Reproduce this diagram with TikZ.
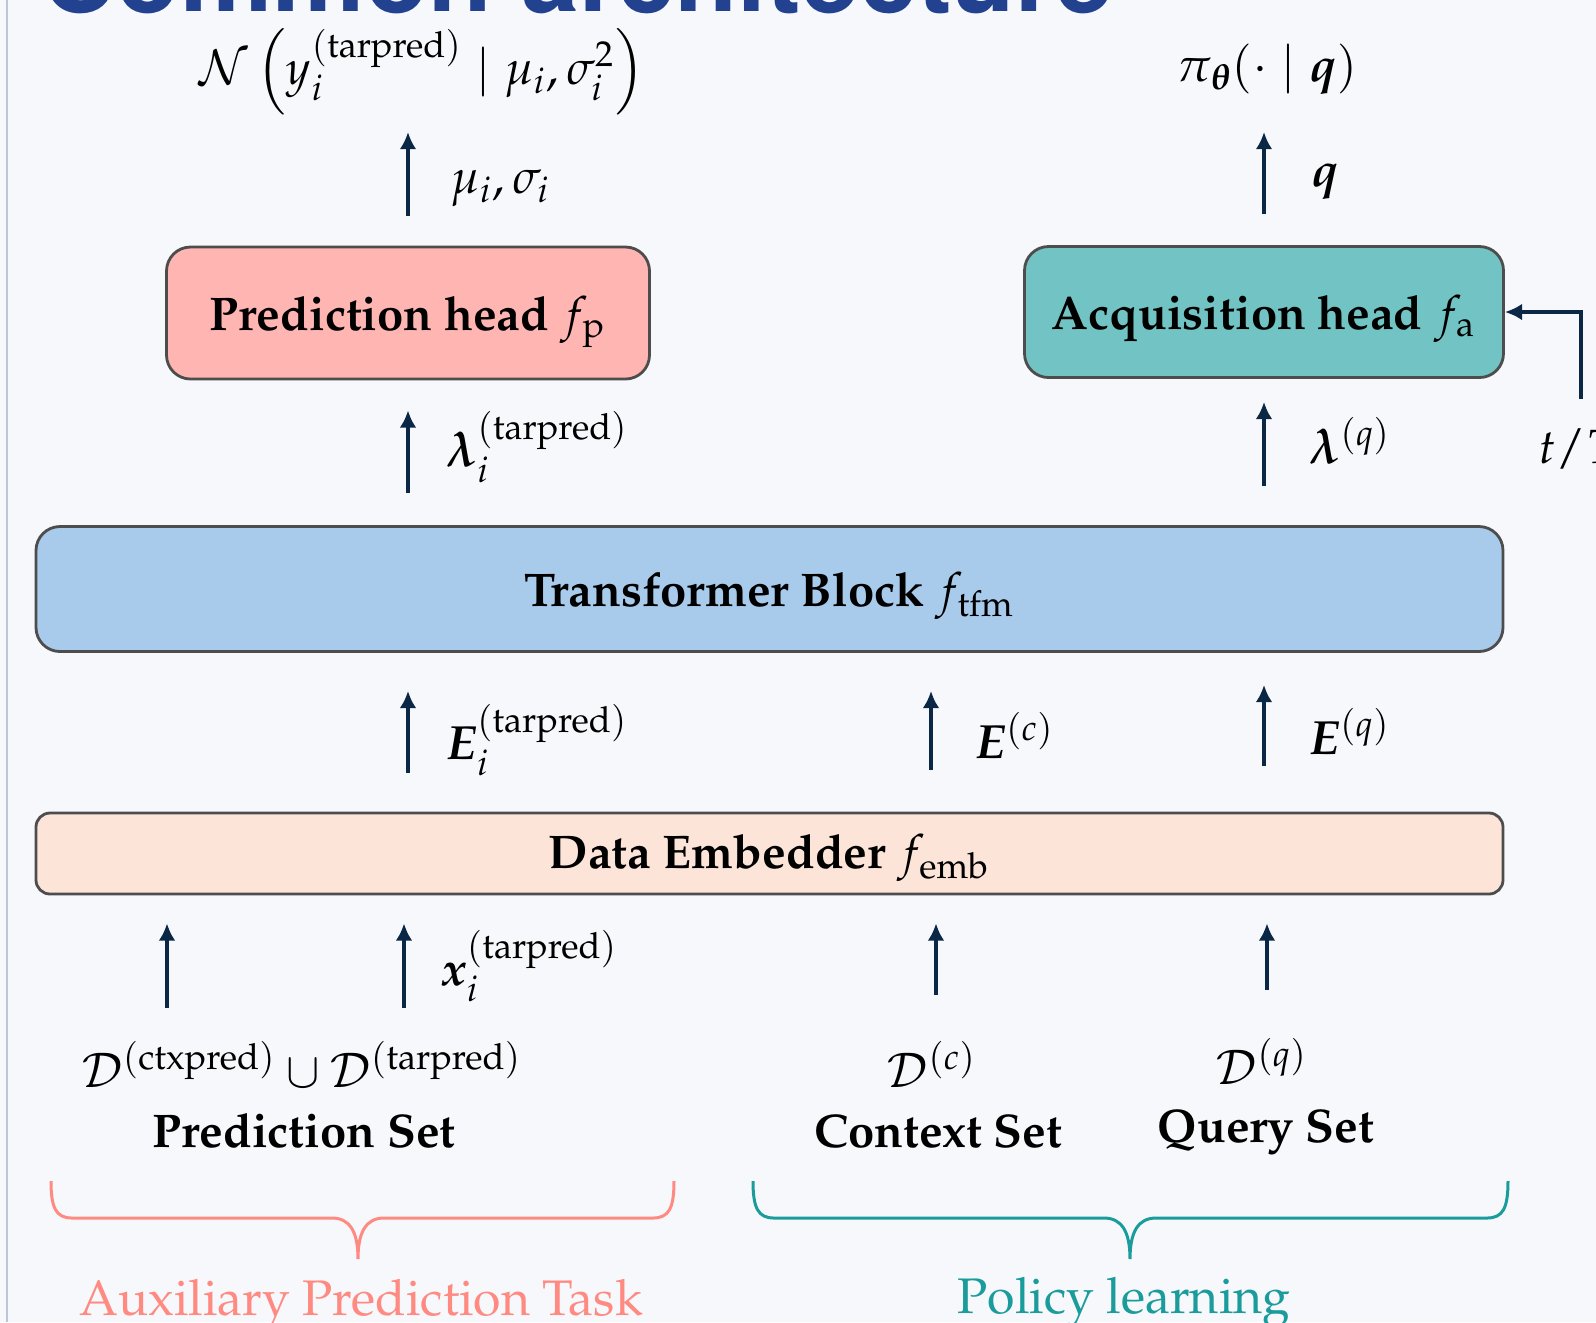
\documentclass[tikz,border=0pt]{standalone}
\usepackage[T1]{fontenc}
\usepackage{amsmath,amssymb}
\usepackage{mathpazo}
\usepackage{bm}
\usepackage{tikz}
\usetikzlibrary{arrows.meta,positioning,calc}
\definecolor{slidebg}{HTML}{F7F8FB}
\definecolor{framegray}{HTML}{BCC6DA}
\definecolor{titleblue}{HTML}{22418F}
\definecolor{arrownavy}{HTML}{0B2746}
\definecolor{predpink}{HTML}{FFB5B1}
\definecolor{acqteal}{HTML}{72C3C3}
\definecolor{tfmblue}{HTML}{A8CBEC}
\definecolor{embpeach}{HTML}{FCE4D9}
\definecolor{boxedge}{HTML}{4D4D4D}
\definecolor{auxsalmon}{HTML}{FF8A82}
\definecolor{policyteal}{HTML}{1B9C9C}

\tikzset{
  block/.style={draw=boxedge,line width=0.7pt,rounded corners=6pt,align=center,text depth=0pt,
    font=\fontsize{11.8}{14}\selectfont\bfseries},
  flow/.style={-{Latex[length=4.3pt,width=4.2pt]},line width=1.2pt,draw=arrownavy},
  lbl/.style={font=\fontsize{12}{14}\selectfont,inner sep=0pt},
  setname/.style={font=\fontsize{11.8}{14}\selectfont\bfseries,inner sep=0pt},
  taskbrace/.style={line width=0.75pt},
  tasklbl/.style={anchor=base,inner sep=0pt,font=\fontsize{12.5}{15}\selectfont},
}

\begin{document}
\begin{tikzpicture}[x=0.25pt,y=-0.25pt]
  \useasboundingbox (0,0) rectangle (1596,1322);
  \fill[slidebg] (0,0) rectangle (1596,1322);
  \clip (0,0) rectangle (1596,1322);
  \draw[framegray,line width=0.5pt] (7,0) -- (7,1322);
  % slide title, mostly above the frame
  \node[anchor=base west,inner sep=0pt,text=titleblue,
    font=\fontfamily{phv}\fontseries{b}\fontsize{26}{30}\selectfont] (title) at (41,11) {Common architecture};

  % blocks
  \node[block,fill=predpink,minimum width=120.75pt,minimum height=33pt] (phead) at (408,313) {Prediction head $f_{\mathrm{p}}$};
  \node[block,fill=acqteal,minimum width=119.75pt,minimum height=32.75pt] (ahead) at (1264,312) {Acquisition head $f_{\mathrm{a}}$};
  \node[block,fill=tfmblue,minimum width=366.75pt,minimum height=31.25pt] (tfm) at (769.5,589) {Transformer Block $f_{\mathrm{tfm}}$};
  \node[block,fill=embpeach,rounded corners=3.5pt,minimum width=366.75pt,minimum height=20.25pt] (emb) at (769.5,853.5) {\raisebox{1pt}{Data Embedder $f_{\mathrm{emb}}$}};

  % outputs
  \node[lbl,anchor=base] (nll) at (422,84) {$\mathcal{N}\left(y_i^{(\mathrm{tarpred})} \mid \mu_i, \sigma_i^2\right)$};
  \node[lbl,anchor=base] (policy) at (1267,81) {$\pi_{\bm{\theta}}(\cdot \mid \bm{q})$};
  \coordinate (nllfoot) at (408,132);
  \coordinate (policyfoot) at (1264,132);
  \draw[flow,shorten <=7.5pt] (phead.north) -- (nllfoot);
  \draw[flow,shorten <=7.75pt] (ahead.north) -- (policyfoot);
  \node[lbl,anchor=base west] (musig) at (450,193) {$\mu_i, \sigma_i$};
  \node[lbl,anchor=base west] (qvec) at (1311,186) {$\bm{q}$};

  % transformer to heads
  \draw[flow,shorten <=8pt,shorten >=7.5pt] (tfm.north -| phead) -- (phead.south);
  \draw[flow,shorten <=9.75pt,shorten >=5.75pt] (tfm.north -| ahead) -- (ahead.south);
  \node[lbl,anchor=base west] (lamtar) at (445,466) {$\bm{\lambda}_i^{(\mathrm{tarpred})}$};
  \node[lbl,anchor=base west] (lamq) at (1308,463) {$\bm{\lambda}^{(q)}$};

  % step input for the acquisition head
  \node[lbl,anchor=base west] (tstep) at (1538,463) {$t/T$};
  \coordinate (tsteptail) at (1581,399);
  \draw[flow] (tsteptail) |- (ahead.east);

  % embedder to transformer
  \coordinate (ectx) at (931,0);
  \draw[flow,shorten <=9.75pt,shorten >=9.5pt] (emb.north -| phead) -- (tfm.south -| phead);
  \draw[flow,shorten <=10.5pt,shorten >=9.5pt] (emb.north -| ectx) -- (tfm.south -| ectx);
  \draw[flow,shorten <=11.5pt,shorten >=8pt] (emb.north -| ahead) -- (tfm.south -| ahead);
  \node[lbl,anchor=base west] (etar) at (445,759) {$\bm{E}_i^{(\mathrm{tarpred})}$};
  \node[lbl,anchor=base west] (ec) at (974,758) {$\bm{E}^{(c)}$};
  \node[lbl,anchor=base west] (eq) at (1308,754) {$\bm{E}^{(q)}$};

  % data sets into the embedder
  \coordinate (ctxpredtail) at (167,1008);
  \coordinate (tarpredtail) at (404,1008);
  \coordinate (ctxtail) at (936,995);
  \coordinate (querytail) at (1267,990);
  \foreach \t in {ctxpredtail,tarpredtail,ctxtail,querytail}
    \draw[flow,shorten >=7pt] (\t) -- (\t |- emb.south);
  \node[lbl,anchor=base west] (xtar) at (440,985) {$\bm{x}_i^{(\mathrm{tarpred})}$};

  \node[lbl,anchor=base] (dpred) at (302,1087) {$\mathcal{D}^{(\mathrm{ctxpred})} \cup \mathcal{D}^{(\mathrm{tarpred})}$};
  \node[setname,anchor=base] (predset) at (304,1147) {Prediction Set};
  \node[lbl,anchor=base] (dctx) at (932,1087) {$\mathcal{D}^{(c)}$};
  \node[setname,anchor=base] (ctxset) at (938,1147) {Context Set};
  \node[lbl,anchor=base] (dquery) at (1262,1084) {$\mathcal{D}^{(q)}$};
  \node[setname,anchor=base] (queryset) at (1266,1142) {Query Set};

  % task braces
  \draw[taskbrace,auxsalmon] (51,1181) .. controls (51,1208) and (56,1218) .. (72,1218)
    -- (332,1218) .. controls (350,1218) and (358,1232) .. (358,1259)
    .. controls (358,1232) and (366,1218) .. (384,1218)
    -- (653,1218) .. controls (669,1218) and (674,1208) .. (674,1181);
  \draw[taskbrace,policyteal] (753,1181) .. controls (753,1208) and (758,1218) .. (774,1218)
    -- (1104,1218) .. controls (1122,1218) and (1130,1232) .. (1130,1259)
    .. controls (1130,1232) and (1138,1218) .. (1156,1218)
    -- (1487,1218) .. controls (1503,1218) and (1508,1208) .. (1508,1181);
  \node[tasklbl,text=auxsalmon] (auxtask) at (361,1315) {Auxiliary Prediction Task};
  \node[tasklbl,text=policyteal] (policytask) at (1124,1313) {Policy learning};
\end{tikzpicture}
\end{document}
